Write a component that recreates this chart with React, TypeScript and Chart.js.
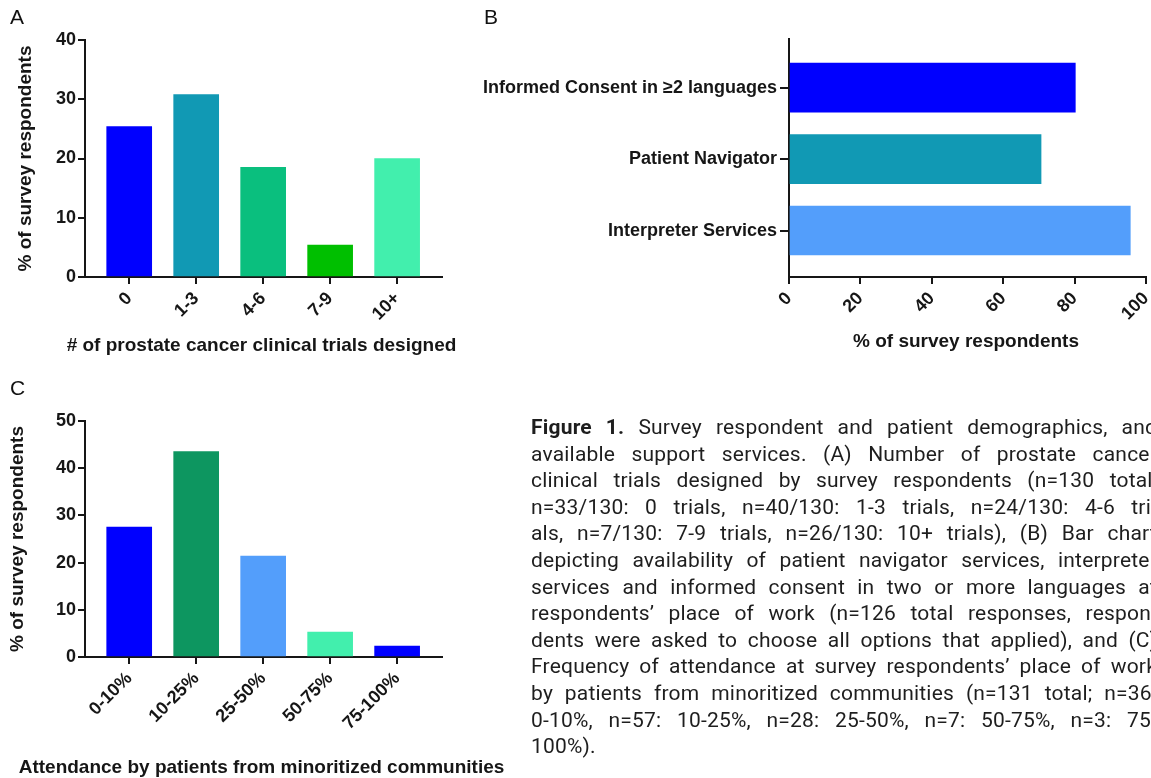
import React, { useEffect, useRef } from "react";
import { Chart, registerables } from "chart.js";

Chart.register(...registerables);

// Panel A: clinical trials designed
const TRIAL_CATEGORIES = ["0", "1-3", "4-6", "7-9", "10+"];
const TRIAL_PERCENT = [25.4, 30.8, 18.5, 5.4, 20.0];
const TRIAL_COLORS = ["#0000FF", "#1199B4", "#0ABF7E", "#00BF00", "#42EFAD"];

// Panel B: available support services
const SERVICE_CATEGORIES = ["Informed Consent in \u22652 languages", "Patient Navigator", "Interpreter Services"];
const SERVICE_PERCENT = [80.2, 70.6, 95.6];
const SERVICE_COLORS = ["#0000FF", "#1199B4", "#539EFB"];
const SERVICE_X_TICKS = [0, 20, 40, 60, 80, 100];

// Panel C: attendance by patients from minoritized communities
const ATTEND_CATEGORIES = ["0-10%", "10-25%", "25-50%", "50-75%", "75-100%"];
const ATTEND_PERCENT = [27.5, 43.5, 21.4, 5.3, 2.3];
const ATTEND_COLORS = ["#0000FF", "#0D9660", "#539EFB", "#42EFAD", "#0000FF"];

const CAPTION_LINES = [
  "available support services. (A) Number of prostate cancer",
  "clinical trials designed by survey respondents (n=130 total,",
  "n=33/130: 0 trials, n=40/130: 1-3 trials, n=24/130: 4-6 tri-",
  "als, n=7/130: 7-9 trials, n=26/130: 10+ trials), (B) Bar chart",
  "depicting availability of patient navigator services, interpreter",
  "services and informed consent in two or more languages at",
  "respondents\u2019 place of work (n=126 total responses, respon-",
  "dents were asked to choose all options that applied), and (C)",
  "Frequency of attendance at survey respondents\u2019 place of work",
  "by patients from minoritized communities (n=131 total; n=36:",
  "0-10%, n=57: 10-25%, n=28: 25-50%, n=7: 50-75%, n=3: 75-",
];

const FONT_FAMILY = "'Liberation Sans', Arial, Helvetica, sans-serif";
const INK = "#161616";
const TICK_FONT = { family: FONT_FAMILY, size: 18, weight: "bold" as const };
const TITLE_FONT = { family: FONT_FAMILY, size: 19, weight: "bold" as const };

type Box = { left: number; top: number; right: number; bottom: number };

const axisLine = (tickLength: number) => ({
  grid: {
    display: true,
    offset: false,
    drawOnChartArea: false,
    drawTicks: true,
    tickLength,
    color: INK,
    lineWidth: 2,
  },
  border: { display: true, color: INK, width: 2 },
});

function verticalBarConfig(
  cats: string[],
  values: number[],
  colors: string[],
  yMax: number,
  yStep: number,
  plot: Box,
  width: number,
  height: number,
  yTitleOffset: number
): any {
  return {
    type: "bar",
    data: {
      datasets: [
        {
          data: values.map((v, i) => ({ x: i, y: v })),
          backgroundColor: colors,
          borderWidth: 0,
          barThickness: 45,
        },
      ],
    },
    options: {
      responsive: false,
      animation: false,
      events: [],
      layout: { padding: { left: 0, top: plot.top, right: width - plot.right, bottom: 0 } },
      plugins: { legend: { display: false }, tooltip: { enabled: false } },
      scales: {
        x: {
          type: "linear",
          offset: false,
          min: -0.66,
          max: cats.length - 1 + 0.67,
          afterBuildTicks: (s: any) => {
            s.ticks = cats.map((_, i) => ({ value: i }));
          },
          afterFit: (s: any) => {
            s.height = height - plot.bottom;
          },
          ticks: {
            callback: (_v: any, i: number) => cats[i],
            minRotation: 45,
            maxRotation: 45,
            autoSkip: false,
            font: TICK_FONT,
            color: INK,
            padding: 4,
          },
          ...axisLine(7),
        },
        y: {
          type: "linear",
          min: 0,
          max: yMax,
          afterFit: (s: any) => {
            s.width = plot.left;
          },
          ticks: { stepSize: yStep, font: TICK_FONT, color: INK, padding: 2 },
          title: {
            display: true,
            text: "% of survey respondents",
            font: TITLE_FONT,
            color: INK,
            padding: { top: yTitleOffset - 11.4, bottom: 0 },
          },
          ...axisLine(7),
        },
      },
    },
  };
}

function horizontalBarConfig(plot: Box, width: number, height: number): any {
  return {
    type: "bar",
    data: {
      datasets: [
        {
          data: SERVICE_PERCENT.map((v, i) => ({ x: v, y: i })),
          backgroundColor: SERVICE_COLORS,
          borderWidth: 0,
          barThickness: 49,
        },
      ],
    },
    options: {
      indexAxis: "y",
      responsive: false,
      animation: false,
      events: [],
      layout: { padding: { left: 0, top: plot.top, right: width - plot.right, bottom: 0 } },
      plugins: { legend: { display: false }, tooltip: { enabled: false } },
      scales: {
        x: {
          type: "linear",
          min: 0,
          max: 100,
          afterBuildTicks: (s: any) => {
            s.ticks = SERVICE_X_TICKS.map((v) => ({ value: v }));
          },
          afterFit: (s: any) => {
            s.height = height - plot.bottom;
          },
          ticks: {
            minRotation: 45,
            maxRotation: 45,
            autoSkip: false,
            font: TICK_FONT,
            color: INK,
            padding: 4,
          },
          ...axisLine(7),
        },
        y: {
          type: "linear",
          offset: false,
          reverse: true,
          min: -0.68,
          max: SERVICE_CATEGORIES.length - 1 + 0.65,
          afterBuildTicks: (s: any) => {
            s.ticks = SERVICE_CATEGORIES.map((_, i) => ({ value: i }));
          },
          afterFit: (s: any) => {
            s.width = plot.left;
          },
          ticks: {
            callback: (_v: any, i: number) => SERVICE_CATEGORIES[i],
            autoSkip: false,
            font: TICK_FONT,
            color: INK,
            padding: 3,
          },
          ...axisLine(9),
        },
      },
    },
  };
}

function ChartCanvas({
  config,
  left,
  top,
  width,
  height,
}: {
  config: () => any;
  left: number;
  top: number;
  width: number;
  height: number;
}) {
  const ref = useRef<HTMLCanvasElement | null>(null);
  useEffect(() => {
    if (!ref.current) return;
    const chart = new Chart(ref.current, config());
    return () => chart.destroy();
  }, []);
  return (
    <canvas
      ref={ref}
      width={width}
      height={height}
      style={{ position: "absolute", left, top, width, height }}
    />
  );
}

const textBase: React.CSSProperties = {
  position: "absolute",
  fontFamily: FONT_FAMILY,
  color: INK,
  whiteSpace: "nowrap",
};

function PanelLetter({ text, left, top }: { text: string; left: number; top: number }) {
  return (
    <div style={{ ...textBase, left, top, fontSize: 21, lineHeight: "21px", color: "#111" }}>{text}</div>
  );
}

function AxisTitle({ text, center, y }: { text: string; center: number; y: number }) {
  return (
    <div
      style={{
        ...textBase,
        left: center - 300,
        width: 600,
        top: y - 11,
        textAlign: "center",
        fontSize: 19,
        fontWeight: "bold",
        lineHeight: "22px",
      }}
    >
      {text}
    </div>
  );
}

const captionLine: React.CSSProperties = {
  height: 26.6,
  lineHeight: "26.6px",
  whiteSpace: "nowrap",
  textAlign: "justify",
  textAlignLast: "justify" as any,
};

export default function App() {
  return (
    <div
      style={{
        position: "fixed",
        left: 0,
        top: 0,
        width: 1151,
        height: 778,
        overflow: "hidden",
        background: "#fff",
      }}
    >
      <ChartCanvas
        left={0}
        top={0}
        width={480}
        height={370}
        config={() =>
          verticalBarConfig(
            TRIAL_CATEGORIES,
            TRIAL_PERCENT,
            TRIAL_COLORS,
            40,
            10,
            { left: 85, top: 40, right: 442, bottom: 277 },
            480,
            370,
            26
          )
        }
      />
      <ChartCanvas
        left={480}
        top={0}
        width={720}
        height={370}
        config={() => horizontalBarConfig({ left: 309, top: 39, right: 666, bottom: 277 }, 720, 370)}
      />
      <ChartCanvas
        left={0}
        top={370}
        width={520}
        height={408}
        config={() =>
          verticalBarConfig(
            ATTEND_CATEGORIES,
            ATTEND_PERCENT,
            ATTEND_COLORS,
            50,
            10,
            { left: 85, top: 51, right: 442, bottom: 287 },
            520,
            408,
            18
          )
        }
      />

      <PanelLetter text="A" left={10} top={6} />
      <PanelLetter text="B" left={484} top={6} />
      <PanelLetter text="C" left={10} top={377} />

      <AxisTitle text="# of prostate cancer clinical trials designed" center={261.5} y={345} />
      <AxisTitle text="% of survey respondents" center={966} y={341} />
      <AxisTitle text="Attendance by patients from minoritized communities" center={261.5} y={767} />

      <div
        style={{
          position: "absolute",
          left: 531,
          top: 414,
          width: 626,
          fontFamily: "Roboto, 'Noto Sans', sans-serif",
          fontSize: 21,
          letterSpacing: "0.2px",
          color: "#1e1e1e",
        }}
      >
        <div style={captionLine}>
          <span style={{ fontWeight: "bold" }}>Figure 1.</span> Survey respondent and patient demographics, and
        </div>
        {CAPTION_LINES.map((line) => (
          <div key={line} style={captionLine}>
            {line}
          </div>
        ))}
        <div style={{ ...captionLine, textAlign: "left", textAlignLast: "left" as any }}>100%).</div>
      </div>
    </div>
  );
}
